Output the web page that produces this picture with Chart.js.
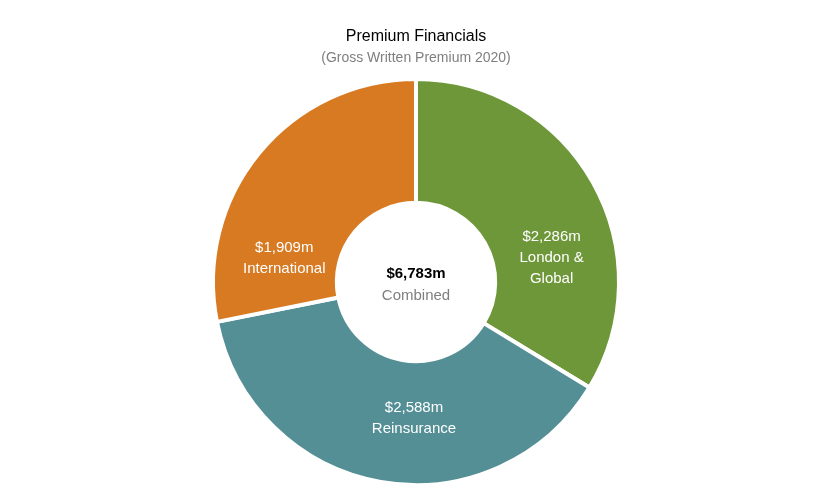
<!DOCTYPE html>
<html><head><meta charset="utf-8">
<script src="https://cdn.jsdelivr.net/npm/chart.js"></script>
<style>html,body{margin:0;padding:0;background:#fff}#w{width:832px;height:499px}</style>
</head><body><div id="w"><canvas id="c"></canvas></div>
<script>
const categories = ["London &\nGlobal", "Reinsurance", "International"];
const values = [2286, 2588, 1909];
const valueLabels = ["$2,286m", "$2,588m", "$1,909m"];
const colors = ["#6E973A", "#548F96", "#D87A22"];
const labelOffsets = [[0.668,-0.117],[-0.01,0.673],[-0.649,-0.117]];
const FONT = "'Liberation Sans', Arial, sans-serif";
const deco = {
  id:'deco',
  afterDraw(chart){
    const ctx = chart.ctx, meta = chart.getDatasetMeta(0);
    const a = meta.data[0], cx = a.x, cy = a.y, R = a.outerRadius;
    ctx.save(); ctx.textAlign='center'; ctx.textBaseline='middle';
    ctx.fillStyle='#000'; ctx.font='16px '+FONT;
    ctx.fillText('Premium Financials', chart.width/2, 37);
    ctx.fillStyle='#7f7f7f'; ctx.font='14px '+FONT;
    ctx.fillText('(Gross Written Premium 2020)', chart.width/2, 58);
    ctx.fillStyle='#fff'; ctx.font='15px '+FONT;
    meta.data.forEach((el,i)=>{
      const x = cx + labelOffsets[i][0]*R, y = cy + labelOffsets[i][1]*R;
      const lines = [valueLabels[i], ...categories[i].split('\n')];
      const h = 21, y0 = y - (lines.length-1)*h/2;
      lines.forEach((l,j)=>ctx.fillText(l, x, y0+j*h));
    });
    const total = values.reduce((s,v)=>s+v,0);
    ctx.fillStyle='#000'; ctx.font='bold 15px '+FONT;
    ctx.fillText('$'+total.toLocaleString('en-US')+'m', cx, cy-8);
    ctx.fillStyle='#7f7f7f'; ctx.font='15px '+FONT;
    ctx.fillText('Combined', cx, cy+14);
    ctx.restore();
  }
};
new Chart(document.getElementById('c'), {
  type:'doughnut',
  data:{labels:categories, datasets:[{data:values, backgroundColor:colors, borderColor:'#fff', borderWidth:4}]},
  options:{responsive:true, maintainAspectRatio:false, animation:false, cutout:'39%',
    layout:{padding:{top:77,bottom:12}},
    plugins:{legend:{display:false}, tooltip:{enabled:false}}},
  plugins:[deco]
});
</script></body></html>
